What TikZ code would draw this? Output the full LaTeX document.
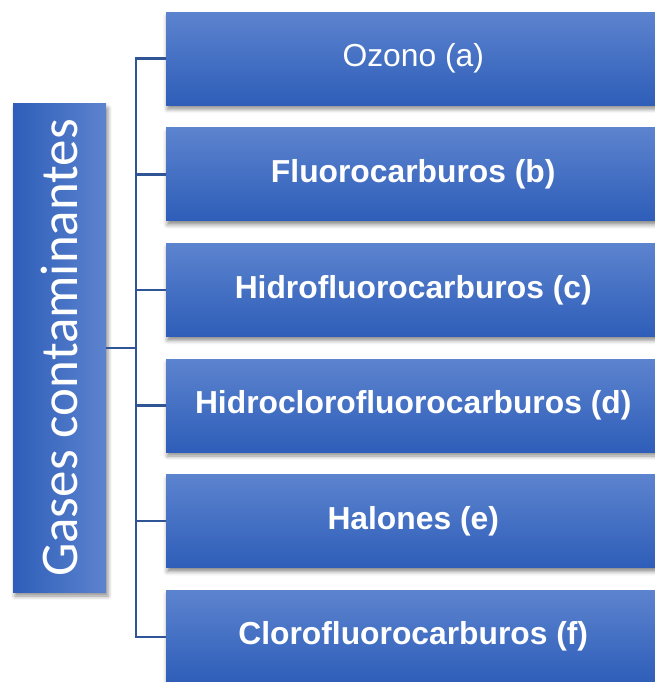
\documentclass[tikz,border=0pt]{standalone}
\usepackage{fontspec}
\setmainfont{Liberation Sans}
\newfontfamily\carlito{Carlito}
\usetikzlibrary{shadows.blur}
\definecolor{azulclaro}{RGB}{92,131,206}
\definecolor{azuloscuro}{RGB}{46,94,185}
\definecolor{azullinea}{RGB}{47,85,151}
\begin{document}
\begin{tikzpicture}[x=1pt, y=-1pt,
        caja/.style={rectangle, anchor=north west, minimum width=494pt, minimum height=93pt,
            inner sep=0pt, top color=azulclaro, bottom color=azuloscuro, text=white,
            font=\fontsize{31.8}{36}\selectfont\bfseries,
            blur shadow={shadow xshift=1pt, shadow yshift=-4pt, shadow blur radius=4pt, shadow opacity=45}},
        titulo/.style={rectangle, rotate=90, minimum width=488pt, minimum height=93pt,
            inner sep=0pt, left color=azuloscuro, right color=azulclaro, text=white,
            font=\carlito\fontsize{53}{60}\selectfont,
            blur shadow={shadow xshift=2pt, shadow yshift=-4pt, shadow blur radius=4pt, shadow opacity=45}},
        linea/.style={azullinea, line width=2.4pt}
    ]
        \useasboundingbox (0,0) rectangle (655,682);

        % Titulo (izquierda)
        \node[titulo] (gases) at (59.5,348) {Gases contaminantes};

        % Gases (derecha)
        \node[caja] (g1) at (166,12) {\mdseries Ozono (a)};
        \node[caja] (g2) at (166,127.6) {Fluorocarburos (b)};
        \node[caja] (g3) at (166,243.2) {Hidrofluorocarburos (c)};
        \node[caja] (g4) at (166,358.8) {Hidroclorofluorocarburos (d)};
        \node[caja] (g5) at (166,474.4) {Halones (e)};
        \node[caja] (g6) at (166,590) {Clorofluorocarburos (f)};

        % Conectores
        \coordinate (tronco) at (136,348);
        \draw[linea] (gases.south) -- (tronco);
        \draw[linea] (g1.west) -| (tronco) |- (g6.west);
        \foreach \i in {2,...,5}
            \draw[linea] (tronco |- g\i.west) -- (g\i.west);
    \end{tikzpicture}
\end{document}
